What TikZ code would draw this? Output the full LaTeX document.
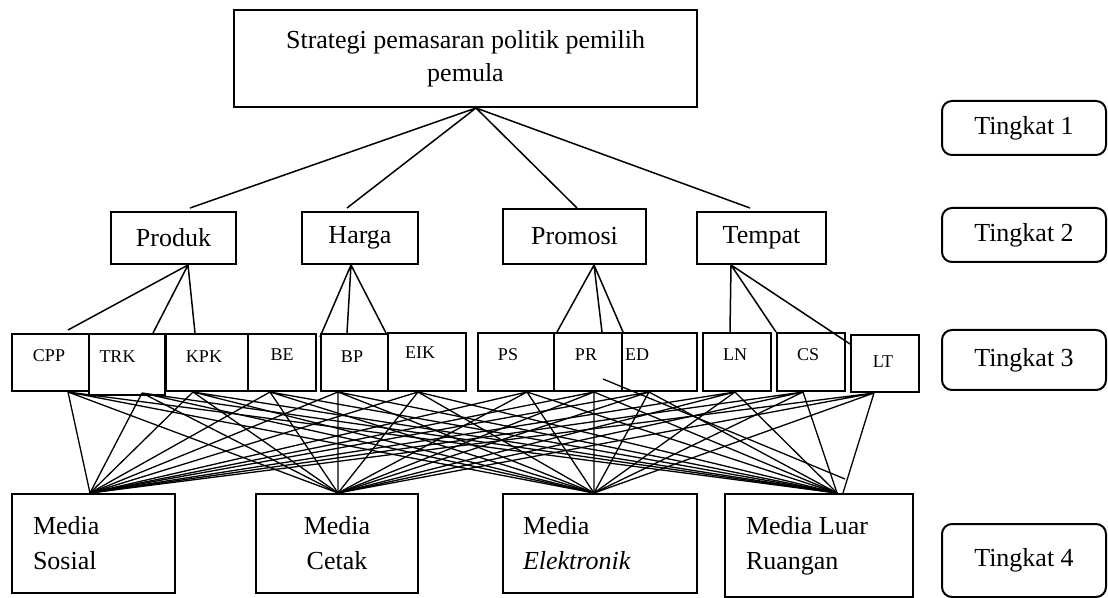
\documentclass[tikz,border=0pt]{standalone}
\usepackage{fontspec}
\setmainfont{Liberation Serif}
\tikzset{line width=.6pt,
  every node/.style={font=\fontsize{13}{16.5}\selectfont,inner sep=0pt},
  box/.style={draw,line width=1pt},
  cell/.style={draw,line width=1pt,minimum height=28.5pt},
  celltext/.style={font=\fontsize{9}{11}\selectfont},
  mediabox/.style={draw,line width=1pt,minimum height=49.5pt,align=flush left,font=\fontsize{13}{17.5}\selectfont},
  tag/.style={draw,line width=1pt,rounded corners=5pt,minimum width=82pt},
  link/.style={line width=.75pt},
  mesh/.style={line width=.65pt}}

\begin{document}
\begin{tikzpicture}[x=.5pt,y=-.5pt]
\path[use as bounding box] (0,0) rectangle (1108,598);
% tingkat 1 dan 2
\node[box,minimum width=231.5pt,minimum height=48.5pt,align=center] (top) at (465.5,58.5) {Strategi pemasaran politik pemilih\\pemula};
\node[box,minimum width=62.5pt,minimum height=26pt] (produk) at (173.5,238) {Produk};
\node[box,minimum width=58pt,minimum height=26pt] (harga) at (360,238) {Harga};
\node[box,minimum width=71.5pt,minimum height=27.5pt] (promosi) at (574.5,236.5) {Promosi};
\node[box,minimum width=64.5pt,minimum height=26pt] (tempat) at (761.5,238) {Tempat};
% tingkat 3
\node[cell,minimum width=38.5pt] (cpp) at (50.5,362.5) {};\node[celltext] (cpp-t) at (49,356) {CPP};
\node[cell,minimum width=38pt,minimum height=30.5pt] (trk) at (127,364.5) {};\node[celltext] (trk-t) at (117.5,357) {TRK};
\node[cell,minimum width=41pt] (kpk) at (207,362.5) {};\node[celltext] (kpk-t) at (204,357) {KPK};
\node[cell,minimum width=34pt] (be) at (282,362.5) {};\node[celltext] (be-t) at (282,355) {BE};
\node[cell,minimum width=33.5pt] (bp) at (354.5,362.5) {};\node[celltext] (bp-t) at (352,357) {BP};
\node[cell,minimum width=39pt,minimum height=29pt] (eik) at (427,362) {};\node[celltext] (eik-t) at (420,353) {EIK};
\node[cell,minimum width=38pt,minimum height=29pt] (ps) at (516,362) {};\node[celltext] (ps-t) at (508,355) {PS};
\node[cell,minimum width=34pt,minimum height=29pt] (pr) at (588,362) {};\node[celltext] (pr-t) at (586,355) {PR};
\node[cell,minimum width=37.5pt,minimum height=29pt] (ed) at (659.5,362) {};\node[celltext] (ed-t) at (637,355) {ED};
\node[cell,minimum width=34pt,minimum height=29pt] (ln) at (737,362) {};\node[celltext] (ln-t) at (735,355) {LN};
\node[cell,minimum width=34pt,minimum height=29pt] (cs) at (811,362) {};\node[celltext] (cs-t) at (808,355) {CS};
\node[cell,minimum width=34pt] (lt) at (885,363.5) {};\node[celltext] (lt-t) at (883,362) {LT};
% tingkat 4
\node[mediabox,minimum width=81.5pt,text width=60.5pt] (sosial) at (93.5,543.5) {Media\\Sosial};
\node[mediabox,minimum width=81pt,align=center] (cetak) at (337,543.5) {Media\\Cetak};
\node[mediabox,minimum width=97pt,text width=77pt] (elektronik) at (600,543.5) {Media\\\textit{Elektronik}};
\node[mediabox,minimum width=94pt,minimum height=51.5pt,text width=73pt] (luar) at (819,545.5) {Media Luar\\Ruangan};
% keterangan tingkat
\node[tag,minimum height=27pt] (t1) at (1024,128) {Tingkat 1};
\node[tag,minimum height=27pt] (t2) at (1024,235) {Tingkat 2};
\node[tag,minimum height=30pt] (t3) at (1024,360) {Tingkat 3};
\node[tag,minimum height=36.5pt] (t4) at (1024,560.5) {Tingkat 4};

% garis tingkat 1 ke 2
\coordinate (top-b) at ([xshift=5.25pt]top.south);
\draw[link] (top-b) -- ([xshift=8.25pt,yshift=1.5pt]produk.north) (top-b) -- ([xshift=-6.5pt,yshift=1.5pt]harga.north)
  (top-b) -- ([xshift=1.25pt]promosi.north) (top-b) -- ([xshift=-5.75pt,yshift=1.5pt]tempat.north);
% garis tingkat 2 ke 3
\coordinate (produk-b) at ([xshift=7.25pt]produk.south);\coordinate (harga-b) at ([xshift=-4.5pt]harga.south);
\coordinate (promosi-b) at ([xshift=9.75pt]promosi.south);\coordinate (tempat-b) at ([xshift=-15.25pt]tempat.south);
\draw[link] (produk-b) -- ([xshift=8.75pt,yshift=1.5pt]cpp.north) (produk-b) -- ([xshift=13pt]trk.north) (produk-b) -- ([xshift=-6pt]kpk.north);
\draw[link] (harga-b) -- ([yshift=-2pt]bp.north west) (harga-b) -- ([xshift=-3.75pt]bp.north) (harga-b) -- ([xshift=-1.5pt]bp.north east);
\draw[link] (promosi-b) -- ([xshift=2pt]pr.north west) (promosi-b) -- ([xshift=7pt]pr.north) (promosi-b) -- ([xshift=1pt]ed.north west);
\draw[link] (tempat-b) -- ([xshift=-3.5pt]ln.north) (tempat-b) -- (cs.north west) (tempat-b) -- ([yshift=-5pt]lt.north west);
% garis tingkat 3 ke 4
\coordinate (cpp-b) at ([xshift=8.75pt]cpp.south);\coordinate (trk-b) at ([xshift=7.5pt,yshift=1.5pt]trk.south);
\coordinate (kpk-b) at ([xshift=-7pt]kpk.south);\coordinate (be-b) at ([xshift=-6pt]be.south);
\coordinate (bp-b) at ([xshift=-8.25pt]bp.south);\coordinate (eik-b) at ([xshift=-4.5pt]eik.south);
\coordinate (ps-b) at ([xshift=5.5pt]ps.south);\coordinate (pr-b) at ([xshift=3pt]pr.south);
\coordinate (ed-b) at ([xshift=-5.25pt]ed.south);\coordinate (ln-b) at ([xshift=-1pt]ln.south);
\coordinate (cs-b) at ([xshift=-4pt]cs.south);\coordinate (lt-b) at ([xshift=-5.5pt]lt.south);
\coordinate (sosial-a) at ([xshift=-1.75pt]sosial.north);\coordinate (cetak-a) at ([xshift=.5pt]cetak.north);
\coordinate (elektronik-a) at ([xshift=-3pt]elektronik.north);\coordinate (luar-a) at ([xshift=9pt]luar.north);
\coordinate (luar-r) at ([xshift=12pt]luar.north);
\draw[mesh] (cpp-b) -- (sosial-a) (cpp-b) -- (cetak-a) (cpp-b) -- (elektronik-a) (cpp-b) -- (luar-a);
\draw[mesh] (trk-b) -- (sosial-a) (trk-b) -- (cetak-a) (trk-b) -- (elektronik-a) (trk-b) -- (luar-a);
\draw[mesh] (kpk-b) -- (sosial-a) (kpk-b) -- (cetak-a) (kpk-b) -- (elektronik-a) (kpk-b) -- (luar-a);
\draw[mesh] (be-b) -- (sosial-a) (be-b) -- (cetak-a) (be-b) -- (elektronik-a) (be-b) -- (luar-a);
\draw[mesh] (bp-b) -- (sosial-a) (bp-b) -- (cetak-a) (bp-b) -- (elektronik-a) (bp-b) -- (luar-a);
\draw[mesh] (eik-b) -- (sosial-a) (eik-b) -- (cetak-a) (eik-b) -- (elektronik-a) (eik-b) -- (luar-a);
\draw[mesh] (ps-b) -- (sosial-a) (ps-b) -- (cetak-a) (ps-b) -- (elektronik-a) (ps-b) -- (luar-a);
\draw[mesh] (pr-b) -- (sosial-a) (pr-b) -- (cetak-a) (pr-b) -- (elektronik-a) (pr-b) -- (luar-a);
\draw[mesh] (ed-b) -- (sosial-a) (ed-b) -- (cetak-a) (ed-b) -- (elektronik-a) (ed-b) -- (luar-a);
\draw[mesh] (ln-b) -- (sosial-a) (ln-b) -- (cetak-a) (ln-b) -- (elektronik-a) (ln-b) -- (luar-a);
\draw[mesh] (cs-b) -- (sosial-a) (cs-b) -- (cetak-a) (cs-b) -- (elektronik-a) (cs-b) -- (luar-a);
\draw[mesh] (lt-b) -- (sosial-a) (lt-b) -- (cetak-a) (lt-b) -- (elektronik-a) (lt-b) -- (luar-r);
\draw[mesh] ([xshift=7.5pt,yshift=-8.5pt]pr.center) -- ([xshift=13pt,yshift=7pt]luar.north);
\end{tikzpicture}
\end{document}
